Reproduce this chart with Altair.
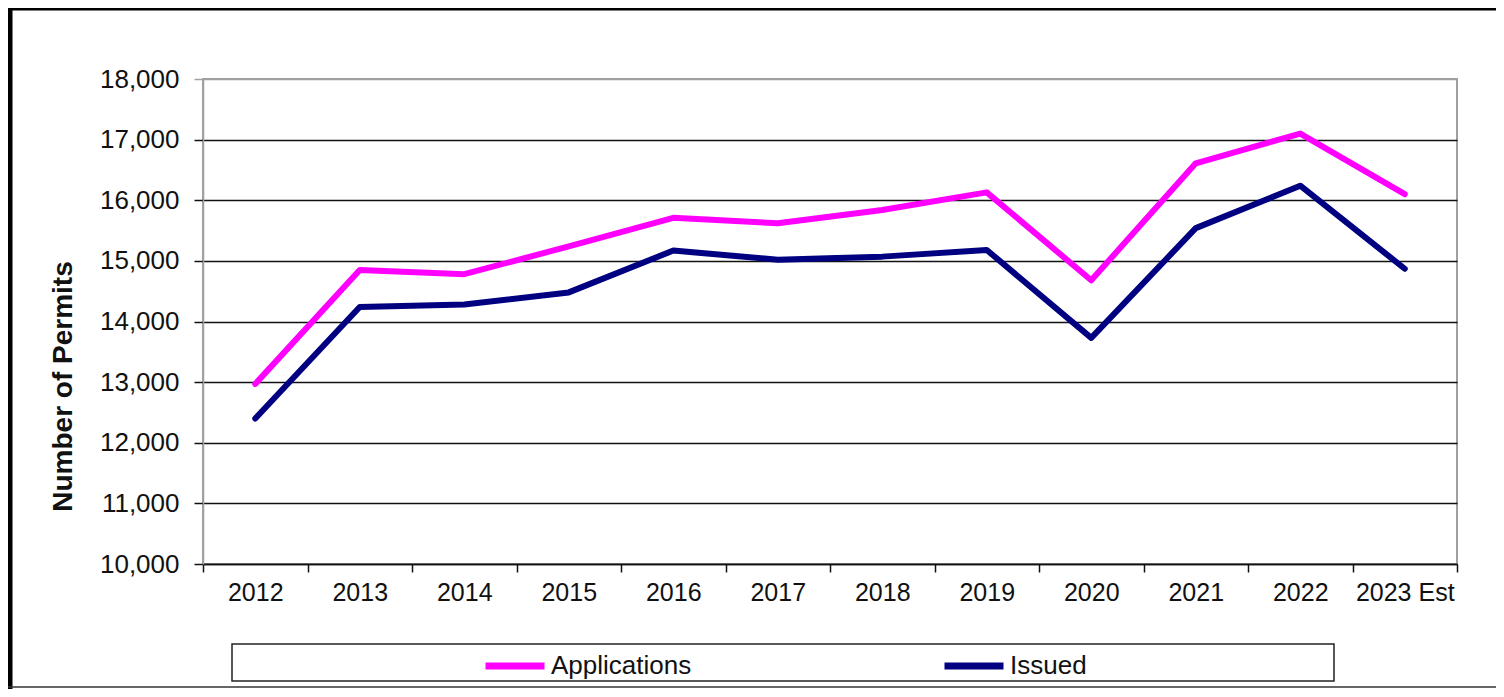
import altair as alt
import pandas as pd

years = ["2012", "2013", "2014", "2015", "2016", "2017", "2018", "2019",
         "2020", "2021", "2022", "2023 Est"]
applications = [12970, 14850, 14780, 15240, 15710, 15620, 15840, 16130,
                14680, 16610, 17100, 16100]
issued = [12400, 14240, 14280, 14480, 15170, 15020, 15070, 15180,
          13730, 15540, 16240, 14870]
series_names = ["Applications", "Issued"]
series_colors = ["#FF00FF", "#000080"]
y_ticks = list(range(10000, 18001, 1000))

rows = []
for i, y in enumerate(years):
    rows.append({"year": y, "series": series_names[0], "value": applications[i]})
    rows.append({"year": y, "series": series_names[1], "value": issued[i]})
df = pd.DataFrame(rows)

FONT = "Liberation Sans"

lines = alt.Chart(df).mark_line(strokeWidth=6, strokeCap="round", strokeJoin="round").encode(
    x=alt.X("year:N", sort=years, bandPosition=0.5,
            scale=alt.Scale(type="band", paddingInner=0, paddingOuter=0),
            axis=alt.Axis(title=None, tickBand="extent", labelAngle=0, labelOverlap=False,
                          labelFontSize=25, labelColor="#111", labelPadding=8,
                          tickColor="#111", tickSize=8, tickWidth=1.5,
                          domainColor="#111", domainWidth=1.5, grid=False)),
    y=alt.Y("value:Q",
            scale=alt.Scale(domain=[10000, 18000], nice=False, zero=False),
            axis=alt.Axis(values=y_ticks, format=",.0f", title="Number of Permits",
                          titleFontSize=28, titleFontWeight="bold", titleColor="#111",
                          titleX=-140, titleY=307, titleAngle=270,
                          titleAlign="center", titleBaseline="middle",
                          labelFontSize=26, labelColor="#111", labelPadding=15,
                          tickSize=9, tickWidth=1.5,
                          tickColor={"condition": {"test": "datum.value === 18000", "value": "#a0a0a0"}, "value": "#111"},
                          domainColor="#a0a0a0", domainWidth=1.5,
                          grid=True, gridWidth=1.5,
                          gridColor={"condition": {"test": "datum.value === 18000", "value": "#a0a0a0"}, "value": "#111"})),
    color=alt.Color("series:N",
                    scale=alt.Scale(domain=series_names, range=series_colors),
                    legend=alt.Legend(title=None, orient="none", direction="horizontal",
                                      legendX=279, legendY=554, padding=0,
                                      symbolType="stroke", symbolSize=3481,
                                      symbolStrokeWidth=7, labelFontSize=26,
                                      labelColor="#111", labelOffset=3,
                                      columnPadding=238)),
)

legend_box = alt.Chart(alt.Data(values=[{}])).mark_rect(
    fill="white", stroke="#222", strokeWidth=1.5
).encode(x=alt.value(29), x2=alt.value(1131), y=alt.value(565), y2=alt.value(602))

frame_left = alt.Chart(alt.Data(values=[{}])).mark_rule(color="black", strokeWidth=5).encode(
    x=alt.value(-193), y=alt.value(-71), y2=alt.value(610))
frame_top = alt.Chart(alt.Data(values=[{}])).mark_rule(color="black", strokeWidth=5).encode(
    x=alt.value(-195), x2=alt.value(1300), y=alt.value(-71))
frame_bottom = alt.Chart(alt.Data(values=[{}])).mark_rule(color="#333", strokeWidth=1.5).encode(
    x=alt.value(-195), x2=alt.value(1300), y=alt.value(608))

chart = alt.layer(legend_box, frame_left, frame_top, frame_bottom, lines).properties(
    width=1254, height=485,
    padding={"left": 195, "top": 71, "right": 39, "bottom": 125},
    autosize=alt.AutoSizeParams(type="none"),
).configure(font=FONT).configure_view(stroke="#a0a0a0", strokeWidth=2)

chart.save("out.html", embed_options={"renderer": "svg", "actions": False})
